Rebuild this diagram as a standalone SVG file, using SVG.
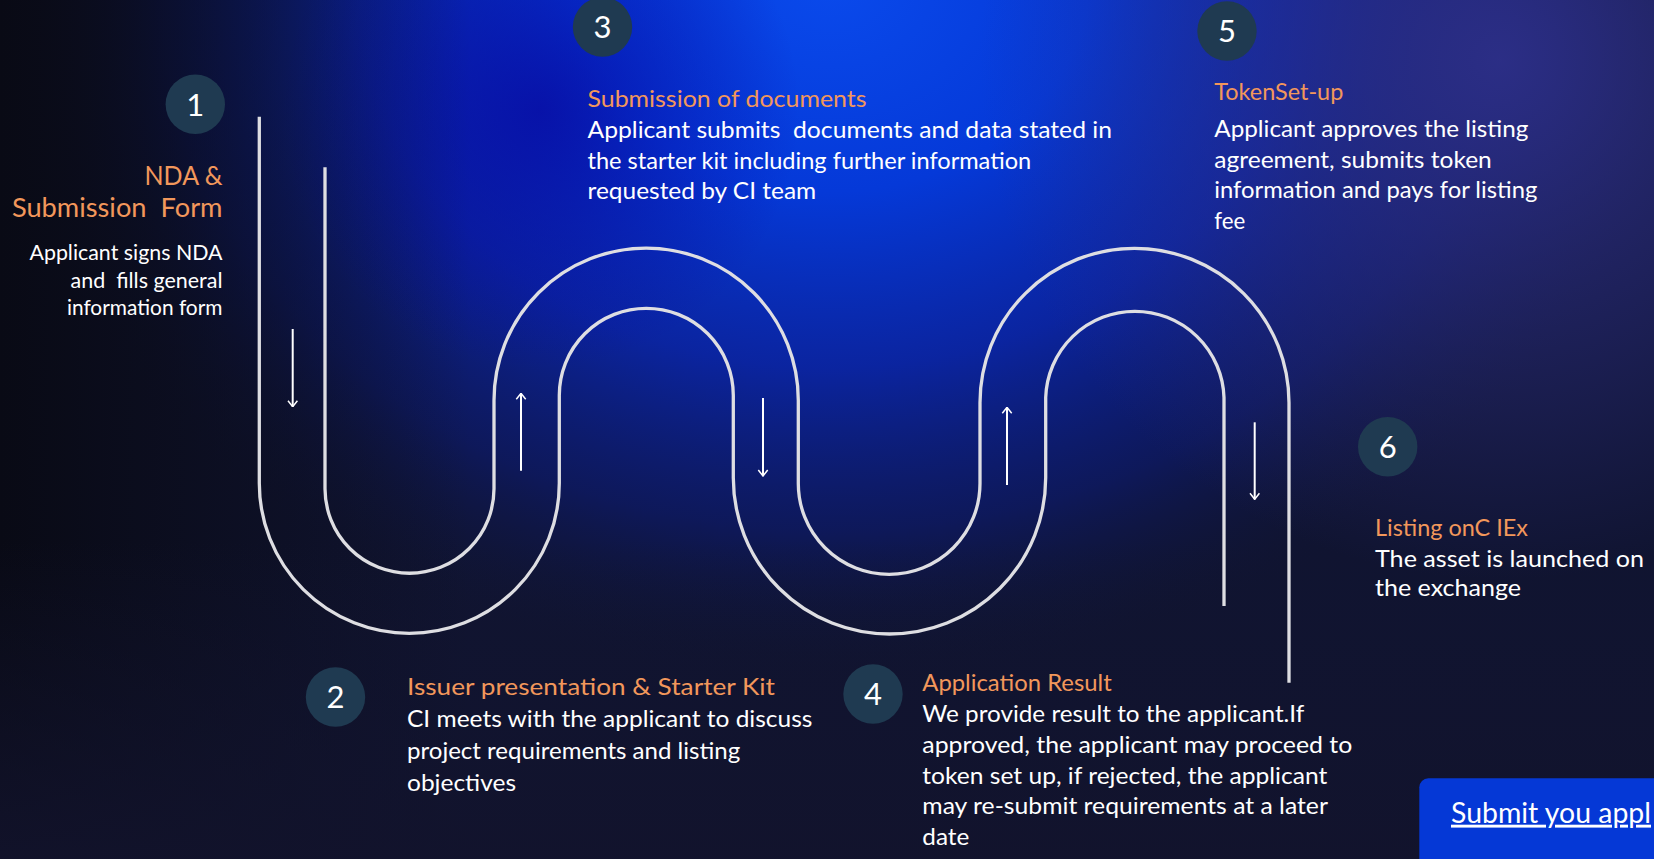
<svg xmlns="http://www.w3.org/2000/svg" width="1654" height="859" viewBox="0 0 1654 859">
<style>
  .t{font-family:Lato,"Open Sans","Liberation Sans",sans-serif;}
  .head{fill:#f2975b;font-size:24px;}
  .body{fill:#ffffff;font-size:24px;}
  .h1{fill:#f2975b;font-size:26.5px;}
  .b1{fill:#ffffff;font-size:21.8px;}
  .num{fill:#ffffff;font-size:31px;text-anchor:middle;}
  .badge{fill:#1f3a51;}
  .track{fill:none;stroke:#dedee2;stroke-width:3.3;}
  .arr{fill:none;stroke:#ffffff;stroke-width:2;}
</style>
<defs>
  <radialGradient id="gBlue" gradientUnits="userSpaceOnUse" cx="830" cy="-20" r="860" gradientTransform="translate(830 -20) scale(1 0.82) translate(-830 20)">
    <stop offset="0" stop-color="#0a4aec"/>
    <stop offset="0.3" stop-color="#0539d8"/>
    <stop offset="0.55" stop-color="#0a26ac" stop-opacity="0.9"/>
    <stop offset="0.78" stop-color="#0c1c7c" stop-opacity="0.55"/>
    <stop offset="1" stop-color="#101431" stop-opacity="0"/>
  </radialGradient>
  <radialGradient id="gViolet" gradientUnits="userSpaceOnUse" cx="540" cy="110" r="260">
    <stop offset="0" stop-color="#0808a0" stop-opacity="0.75"/>
    <stop offset="1" stop-color="#0808a0" stop-opacity="0"/>
  </radialGradient>
  <radialGradient id="gPurple" gradientUnits="userSpaceOnUse" cx="1500" cy="60" r="520">
    <stop offset="0" stop-color="#2d2f88" stop-opacity="0.95"/>
    <stop offset="1" stop-color="#2d2f88" stop-opacity="0"/>
  </radialGradient>
  <linearGradient id="gLeft" gradientUnits="userSpaceOnUse" x1="0" y1="0" x2="470" y2="0">
    <stop offset="0" stop-color="#090a15" stop-opacity="1"/>
    <stop offset="0.45" stop-color="#090a15" stop-opacity="0.55"/>
    <stop offset="1" stop-color="#090a15" stop-opacity="0"/>
  </linearGradient>
  <linearGradient id="gBottom" gradientUnits="userSpaceOnUse" x1="0" y1="540" x2="0" y2="859">
    <stop offset="0" stop-color="#12142e" stop-opacity="0"/>
    <stop offset="1" stop-color="#12132c" stop-opacity="0.9"/>
  </linearGradient>
  <marker id="ah" markerUnits="userSpaceOnUse" viewBox="0 0 8 12" markerWidth="8" markerHeight="12" refX="7.5" refY="6" orient="auto">
    <path d="M1.5,1.3 L7.5,6 L1.5,10.7" fill="none" stroke="#ffffff" stroke-width="1.5"/>
  </marker>
</defs>

<g id="background">
  <rect x="0" y="0" width="1654" height="859" fill="#101431"/>
  <rect x="0" y="0" width="1654" height="859" fill="url(#gBlue)"/>
  <rect x="0" y="0" width="1654" height="859" fill="url(#gViolet)"/>
  <rect x="0" y="0" width="1654" height="859" fill="url(#gPurple)"/>
  <rect x="0" y="0" width="1654" height="859" fill="url(#gLeft)"/>
  <rect x="0" y="0" width="1654" height="859" fill="url(#gBottom)"/>
</g>

<g id="connectors">
  <path class="track" d="M259.3,116.7 V483.3 A150,150 0 0 0 559.3,483.3 V395.3 A87,87 0 0 1 733.3,395.3 V477.8 A156.2,156.2 0 0 0 1045.7,477.8 V397.5 A89.2,89.2 0 0 1 1224,397.5 V606"/>
  <path class="track" d="M325,167.3 V488.8 A84.5,84.5 0 0 0 494,488.8 V400.3 A152,152 0 0 1 798.3,400.3 V483.5 A90.85,90.85 0 0 0 980,483.5 V402.8 A154.5,154.5 0 0 1 1289,402.8 V682.7"/>
  <line class="arr" x1="292.7" y1="329" x2="292.7" y2="406.7" marker-end="url(#ah)"/>
  <line class="arr" x1="521" y1="470.7" x2="521" y2="393.3" marker-end="url(#ah)"/>
  <line class="arr" x1="763" y1="398" x2="763" y2="476" marker-end="url(#ah)"/>
  <line class="arr" x1="1007" y1="485" x2="1007" y2="407.3" marker-end="url(#ah)"/>
  <line class="arr" x1="1254.7" y1="422.3" x2="1254.7" y2="499.3" marker-end="url(#ah)"/>
</g>

<g id="step1">
  <circle class="badge" cx="195.3" cy="104.3" r="29.7"/>
  <text class="t num" x="195.3" y="115.5">1</text>
  <text class="t h1" x="222.5" y="185" text-anchor="end" textLength="78" lengthAdjust="spacingAndGlyphs">NDA &amp;</text>
  <text class="t h1" x="222.5" y="217.3" text-anchor="end" xml:space="preserve" textLength="210.6" lengthAdjust="spacingAndGlyphs">Submission  Form</text>
  <text class="t b1" x="222.5" y="260" text-anchor="end" textLength="193" lengthAdjust="spacingAndGlyphs">Applicant signs NDA</text>
  <text class="t b1" x="222.5" y="287.7" text-anchor="end" xml:space="preserve" textLength="152" lengthAdjust="spacingAndGlyphs">and  fills general</text>
  <text class="t b1" x="222.5" y="315" text-anchor="end" textLength="155.6" lengthAdjust="spacingAndGlyphs">information form</text>
</g>

<g id="step2">
  <circle class="badge" cx="335.5" cy="697" r="29.7"/>
  <text class="t num" x="335.5" y="708.2">2</text>
  <text class="t head" x="407" y="694.5" textLength="368" lengthAdjust="spacingAndGlyphs">Issuer presentation &amp; Starter Kit</text>
  <text class="t body" x="407" y="727" textLength="405.4" lengthAdjust="spacingAndGlyphs">CI meets with the applicant to discuss</text>
  <text class="t body" x="407" y="758.5" textLength="333.2" lengthAdjust="spacingAndGlyphs">project requirements and listing</text>
  <text class="t body" x="407" y="791" textLength="109" lengthAdjust="spacingAndGlyphs">objectives</text>
</g>

<g id="step3">
  <circle class="badge" cx="602.5" cy="27" r="29.7"/>
  <text class="t num" x="602.5" y="38.2">3</text>
  <text class="t head" x="587.5" y="107.4" textLength="279" lengthAdjust="spacingAndGlyphs">Submission of documents</text>
  <text class="t body" x="587.5" y="137.7" xml:space="preserve" textLength="524.5" lengthAdjust="spacingAndGlyphs">Applicant submits  documents and data stated in</text>
  <text class="t body" x="587.5" y="168.7" textLength="443.7" lengthAdjust="spacingAndGlyphs">the starter kit including further information</text>
  <text class="t body" x="587.5" y="199.3" textLength="228.7" lengthAdjust="spacingAndGlyphs">requested by CI team</text>
</g>

<g id="step4">
  <circle class="badge" cx="873" cy="694" r="29.7"/>
  <text class="t num" x="873" y="705.2">4</text>
  <text class="t head" x="922.3" y="690.5" textLength="189.4" lengthAdjust="spacingAndGlyphs">Application Result</text>
  <text class="t body" x="922.3" y="722" textLength="382" lengthAdjust="spacingAndGlyphs">We provide result to the applicant.If</text>
  <text class="t body" x="922.3" y="752.5" textLength="430" lengthAdjust="spacingAndGlyphs">approved, the applicant may proceed to</text>
  <text class="t body" x="922.3" y="783.5" textLength="405" lengthAdjust="spacingAndGlyphs">token set up, if rejected, the applicant</text>
  <text class="t body" x="922.3" y="814" textLength="405.6" lengthAdjust="spacingAndGlyphs">may re-submit requirements at a later</text>
  <text class="t body" x="922.3" y="845" textLength="47" lengthAdjust="spacingAndGlyphs">date</text>
</g>

<g id="step5">
  <circle class="badge" cx="1227" cy="31" r="29.7"/>
  <text class="t num" x="1227" y="42.2">5</text>
  <text class="t head" x="1214.3" y="100" textLength="129" lengthAdjust="spacingAndGlyphs">TokenSet-up</text>
  <text class="t body" x="1214.3" y="136.7" textLength="314" lengthAdjust="spacingAndGlyphs">Applicant approves the listing</text>
  <text class="t body" x="1214.3" y="167.7" textLength="277.5" lengthAdjust="spacingAndGlyphs">agreement, submits token</text>
  <text class="t body" x="1214.3" y="198.3" textLength="323" lengthAdjust="spacingAndGlyphs">information and pays for listing</text>
  <text class="t body" x="1214.3" y="229.3" textLength="31" lengthAdjust="spacingAndGlyphs">fee</text>
</g>

<g id="step6">
  <circle class="badge" cx="1387.7" cy="446.7" r="29.7"/>
  <text class="t num" x="1387.7" y="457.9">6</text>
  <text class="t head" x="1375" y="535.5" textLength="153" lengthAdjust="spacingAndGlyphs">Listing onC IEx</text>
  <text class="t body" x="1375" y="566.5" textLength="269" lengthAdjust="spacingAndGlyphs">The asset is launched on</text>
  <text class="t body" x="1375" y="596" textLength="146" lengthAdjust="spacingAndGlyphs">the exchange</text>
</g>

<g id="submit-button">
  <rect x="1419.3" y="778.3" width="300" height="120" rx="9" fill="#0538d6"/>
  <text class="t" x="1451" y="822.7" fill="#ffffff" font-size="29" text-decoration="underline" textLength="200" lengthAdjust="spacingAndGlyphs">Submit you appl</text>
</g>
</svg>
